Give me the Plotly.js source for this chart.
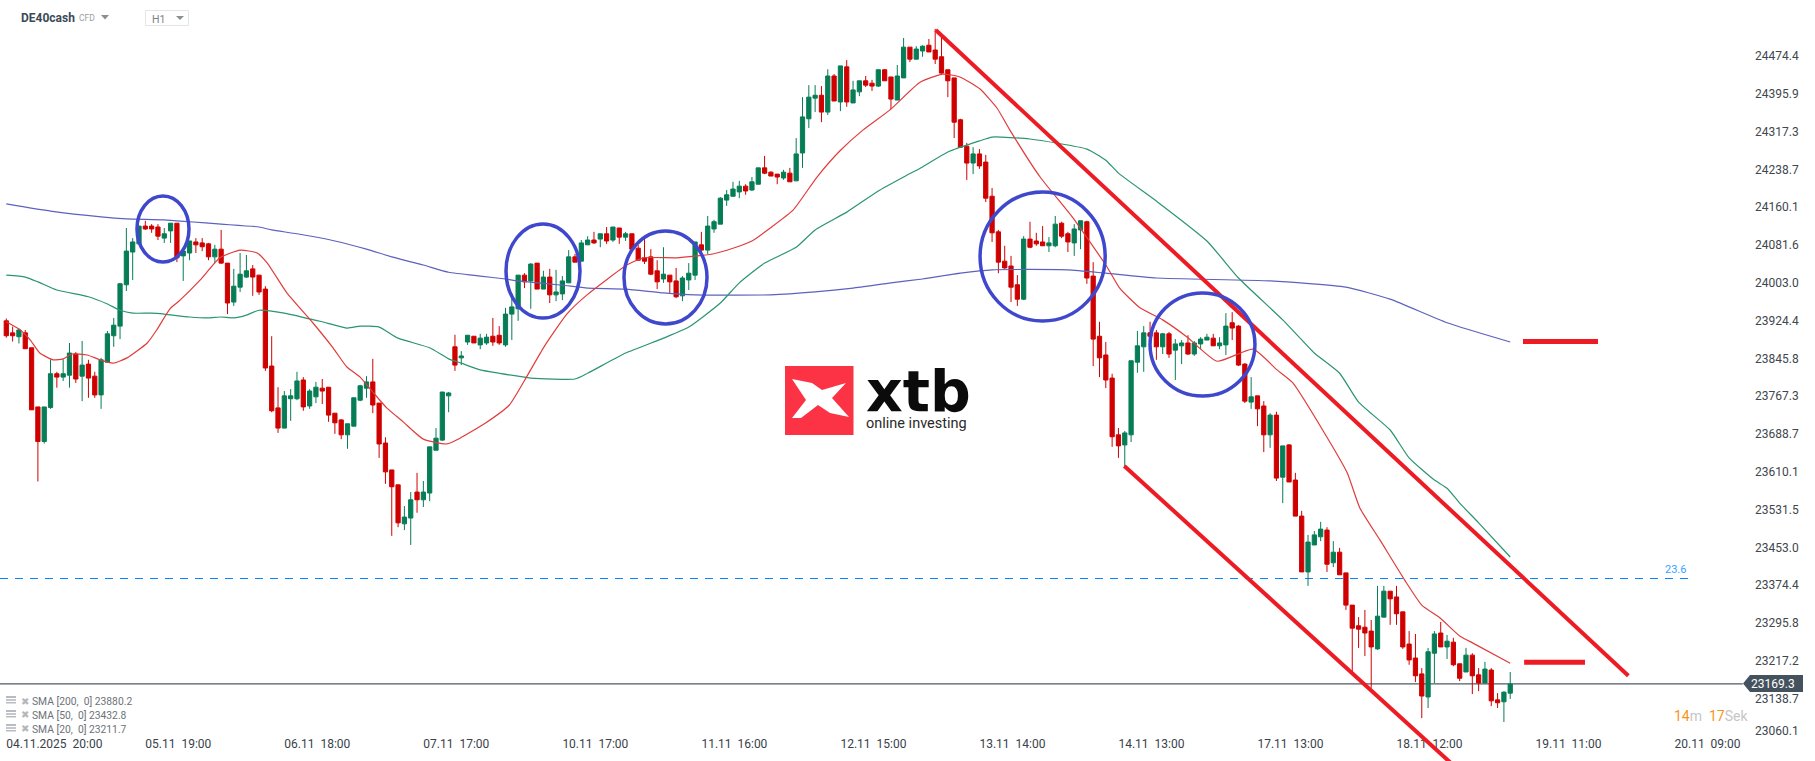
<!DOCTYPE html>
<html>
<head>
<meta charset="utf-8">
<script src="https://cdn.plot.ly/plotly-3.0.1.min.js"></script>
<style>html,body{margin:0;padding:0;background:#fff;overflow:hidden}#chart{width:1815px;height:761px}</style>
</head>
<body>
<div id="chart"></div>
<script>
const candleOpen = [23924,23899,23891,23899,23868,23745,23673,23744,23814,23807,
23811,23855,23809,23834,23809,23770,23838,23893,23913,23999,
24067,24084,24121,24121,24119,24096,24111,24127,24059,24065,
24088,24086,24084,24057,24073,24044,23963,23994,24015,24032,
24019,23990,23830,23743,23701,23762,23762,23801,23747,23766,
23784,23786,23732,23718,23687,23705,23759,23784,23797,23753,
23670,23614,23583,23502,23514,23568,23552,23566,23655,23676,
23768,23870,23847,23880,23892,23874,23878,23892,23894,23874,
23938,23949,24019,24007,24044,23990,24015,23978,23980,24003,
24057,24048,24082,24092,24094,24105,24092,24117,24098,24105,
24075,24055,24057,24028,24011,24019,24007,23976,24009,24019,
24082,24071,24115,24125,24175,24183,24192,24204,24196,24208,
24242,24233,24229,24221,24231,24215,24273,24344,24387,24393,
24358,24433,24379,24452,24377,24400,24423,24418,24412,24446,
24431,24383,24429,24493,24468,24485,24497,24487,24473,24446,
24429,24342,24287,24252,24271,24254,24183,24109,24048,24038,
23999,23969,24094,24090,24088,24080,24080,24127,24105,24086,
24113,24130,24017,23892,23853,23805,23687,23666,23687,23838,
23870,23899,23899,23870,23897,23863,23872,23878,23855,23876,
23884,23888,23872,23874,23920,23913,23834,23755,23768,23747,
23687,23728,23599,23666,23593,23518,23402,23458,23475,23489,
23421,23443,23400,23333,23290,23287,23279,23242,23308,23362,
23350,23319,23252,23223,23190,23142,23233,23275,23246,23256,
23211,23194,23229,23188,23171,23198,23136,23132,23150];
const candleHigh = [23929,23912,23908,23905,23868,23745,23745,23844,23818,23844,
23878,23859,23882,23843,23818,23847,23903,23930,24003,24117,
24096,24121,24132,24125,24125,24117,24127,24127,24069,24090,
24096,24096,24086,24082,24113,24044,24032,24065,24061,24040,
24019,23996,23892,23786,23778,23782,23818,23807,23782,23797,
23803,23786,23732,23720,23710,23764,23791,23809,23845,23753,
23682,23614,23583,23539,23568,23608,23591,23662,23701,23776,
23776,23895,23861,23894,23892,23897,23897,23930,23913,23951,
23980,24019,24023,24044,24044,24028,24032,24030,24017,24071,
24063,24092,24100,24109,24105,24119,24119,24117,24109,24105,
24082,24094,24073,24050,24077,24019,24034,24017,24044,24088,
24109,24142,24134,24181,24196,24213,24215,24208,24223,24242,
24267,24235,24229,24238,24242,24304,24389,24414,24414,24412,
24447,24437,24454,24466,24423,24423,24433,24425,24447,24447,
24431,24456,24512,24493,24495,24497,24510,24531,24514,24446,
24429,24344,24294,24285,24281,24269,24200,24113,24080,24059,
24019,24100,24130,24107,24121,24098,24142,24130,24109,24125,
24132,24132,24046,23922,23880,23814,23701,23695,23841,23903,
23913,23922,23905,23899,23901,23886,23884,23894,23882,23890,
23897,23897,23890,23940,23942,23915,23836,23807,23768,23757,
23732,23735,23664,23668,23608,23529,23479,23487,23506,23495,
23466,23452,23400,23333,23308,23323,23302,23373,23373,23362,
23373,23319,23279,23273,23202,23244,23279,23298,23271,23265,
23211,23244,23233,23202,23215,23202,23150,23154,23194];
const candleLow = [23889,23881,23877,23866,23739,23590,23669,23741,23785,23799,
23785,23795,23757,23764,23764,23741,23838,23870,23886,23986,
24009,24084,24113,24107,24092,24086,24086,24046,24007,24050,
24065,24069,24050,24044,24042,23938,23955,23984,24013,23976,
23978,23820,23734,23691,23701,23716,23759,23737,23741,23753,
23751,23714,23689,23678,23658,23705,23757,23764,23732,23639,
23585,23477,23495,23489,23458,23525,23537,23549,23655,23674,
23734,23820,23832,23874,23878,23865,23874,23872,23874,23870,
23884,23924,23992,23949,23990,23990,23961,23965,23967,24003,
24046,24048,24082,24084,24077,24084,24088,24084,24090,24073,
24050,24042,24019,23990,24003,23980,23971,23965,23988,24009,
24063,24063,24107,24125,24163,24183,24179,24186,24194,24208,
24229,24225,24208,24217,24213,24215,24242,24325,24358,24337,
24352,24381,24360,24369,24377,24391,24410,24402,24410,24423,
24364,24383,24429,24462,24468,24473,24483,24458,24435,24389,
24304,24285,24217,24229,24240,24171,24088,24023,24032,23963,
23955,23967,24075,24080,24080,24067,24077,24096,24067,24059,
24073,24001,23830,23807,23784,23662,23639,23620,23672,23816,
23818,23874,23843,23855,23847,23801,23834,23853,23851,23865,
23884,23872,23865,23853,23884,23830,23753,23741,23705,23651,
23660,23591,23545,23589,23518,23402,23373,23458,23466,23402,
23412,23396,23323,23190,23244,23227,23161,23240,23308,23292,
23292,23242,23209,23173,23098,23119,23171,23246,23221,23206,
23175,23194,23148,23154,23171,23123,23119,23090,23138];
const candleClose = [23893,23893,23905,23866,23739,23673,23745,23814,23807,23814,
23857,23803,23832,23805,23770,23843,23897,23915,24001,24069,
24088,24121,24115,24115,24100,24105,24127,24055,24069,24090,
24082,24078,24057,24073,24044,23961,23996,24021,24028,24015,
23984,23826,23737,23701,23768,23768,23799,23745,23778,23786,
23778,23728,23712,23687,23710,23764,23789,23797,23749,23668,
23610,23579,23504,23516,23552,23552,23568,23662,23680,23776,
23774,23832,23851,23894,23878,23888,23890,23880,23878,23938,
23953,24019,24005,24042,23990,24015,23978,23984,24007,24057,
24046,24086,24092,24086,24105,24090,24119,24098,24105,24073,
24050,24048,24021,24005,24021,24005,23974,24013,24023,24088,
24071,24121,24130,24179,24186,24198,24204,24194,24213,24242,
24231,24225,24223,24233,24213,24271,24348,24389,24393,24358,
24433,24381,24454,24379,24404,24423,24414,24412,24446,24423,
24385,24433,24493,24468,24489,24495,24483,24468,24439,24423,
24337,24285,24252,24271,24246,24179,24107,24046,24034,23994,
23969,24094,24077,24084,24080,24086,24125,24100,24088,24115,
24132,24013,23886,23847,23801,23683,23664,23691,23841,23872,
23899,23892,23870,23897,23855,23876,23878,23855,23878,23886,
23890,23872,23878,23913,23909,23832,23757,23766,23741,23687,
23728,23597,23664,23589,23518,23402,23464,23479,23491,23418,
23443,23396,23333,23285,23283,23275,23246,23310,23362,23346,
23315,23246,23219,23186,23144,23236,23273,23246,23258,23209,
23181,23229,23186,23171,23200,23134,23130,23152,23169];

const sma200X = [0,7,15,19,25,29,34,40,42,46,52,57,61,66,70,75,79,81,88,92,98,104,109,121,128,134,140,145,151,156,168,174,182,200,212,219,228,238];
const sma200Y = [24167,24152,24140,24136,24134,24130,24125,24119,24113,24105,24090,24073,24057,24040,24025,24017,24011,24007,23998,23992,23990,23982,23978,23978,23984,23992,24003,24011,24023,24030,24030,24023,24013,24007,23994,23969,23920,23880];
const sma50X = [0,3,5,8,13,16,18,20,23,25,29,32,34,36,38,40,44,48,50,54,56,59,62,67,70,72,75,78,83,90,92,98,104,108,113,116,120,125,128,133,138,142,145,149,154,156,162,171,174,176,182,190,195,202,207,211,214,219,222,226,228,230,233,238];
const sma50Y = [24019,24015,24005,23988,23974,23959,23946,23940,23940,23938,23932,23930,23932,23930,23936,23946,23940,23928,23922,23909,23913,23911,23888,23868,23845,23836,23822,23815,23805,23803,23815,23857,23888,23911,23961,24003,24044,24077,24113,24150,24194,24223,24244,24275,24298,24306,24302,24281,24258,24231,24173,24090,24013,23926,23857,23815,23755,23697,23639,23593,23576,23545,23504,23433];
const sma20X = [0,2.2,3.8,5.3,7.4,9,10.4,12.8,14.8,16.9,19.1,22.3,23.8,25.9,27.5,30.7,33.8,37,39.7,41.3,44.4,48.5,51.7,53.9,56,58,60.2,62.8,66,69.7,71.8,75.9,79.6,82.4,85.1,88.7,91.9,98.2,100.8,106.1,109.3,111.8,115,118,120.9,124.5,128.3,131.9,135.6,139.8,144.6,148.2,150.9,154.1,156.8,158.8,163.6,168.8,174.2,176.2,179.4,183,186.9,191.6,197.3,201.1,203.6,209,212.2,214.2,217.4,221.3,224,226.9,230,232.1,238];
const sma20Y = [23922,23905,23884,23857,23843,23845,23855,23853,23843,23836,23847,23878,23905,23949,23967,24009,24055,24071,24065,24044,23982,23920,23868,23828,23807,23776,23743,23714,23678,23668,23680,23712,23749,23809,23870,23938,23978,24040,24055,24055,24059,24063,24075,24090,24117,24154,24223,24277,24321,24362,24420,24437,24431,24406,24366,24321,24223,24138,24036,23992,23951,23926,23890,23840,23865,23822,23795,23682,23608,23535,23468,23385,23333,23306,23269,23254,23212];

const yTickValues = [24474.4,24395.9,24317.3,24238.7,24160.1,24081.6,24003.0,23924.4,23845.8,23767.3,23688.7,23610.1,23531.5,23453.0,23374.4,23295.8,23217.2,23138.7,23060.1];
const yTickPlaces = [24474.4,24395.9,24317.3,24238.7,24160.1,24081.6,24003.0,23924.4,23845.8,23767.3,23688.7,23610.1,23531.5,23453.0,23374.4,23295.8,23217.2,23138.7,23072];
const xTickIndex = [0,22,44,66,88,110,132,154,176,198,220,242,264];
const xTickLabels = ["04.11.2025  20:00","05.11  19:00","06.11  18:00","07.11  17:00","10.11  17:00","11.11  16:00","12.11  15:00","13.11  14:00","14.11  13:00","17.11  13:00","18.11  12:00","19.11  11:00","20.11  09:00"];
const smaLegend = ["SMA [200,  0] 23880.2","SMA [50,  0] 23432.8","SMA [20,  0] 23211.7"];
const currentPrice = 23169.3;
const fibPrice = 23388.3, fibEnd = 266.6;
const upperChannel = [147.08,24528.6,256.69,23186.2];
const lowerChannel = [176.93,23622.2,228.79,23002.6];
const markLevels = [[240.02,251.89,23881.0],[240.2,249.83,23214.1]];
const ellipses = [[20.68,28.91,24183.5,24046.3],[79.08,90.79,24125.3,23929.9],[97.75,110.89,24110.8,23917.4],[154.1,173.9,24191.8,23923.6],[181.0,197.6,23981.9,23767.7]];

const candleX = candleOpen.map((_, i) => i);
const W = 1815, H = 761;
const fx = x => x / W, fy = y => 1 - y / H;
const nb = s => s.replace(/  /g, "\u00a0\u00a0");

const RED = '#ed1c24', BLUE = '#3f48cc';
const smaLine = c => ({color:c, width:1.2, shape:'spline', smoothing:0.5});
const traces = [
 {type:'candlestick', x:candleX, open:candleOpen, high:candleHigh, low:candleLow, close:candleClose,
  increasing:{line:{color:'#067d56',width:1}, fillcolor:'#067d56'},
  decreasing:{line:{color:'#cf0000',width:1}, fillcolor:'#cf0000'},
  whiskerwidth:0, showlegend:false, hoverinfo:'skip'},
 {type:'scatter', mode:'lines', x:sma200X, y:sma200Y, line:smaLine('#5c62bd'), showlegend:false, hoverinfo:'skip'},
 {type:'scatter', mode:'lines', x:sma50X, y:sma50Y, line:smaLine('#2b9470'), showlegend:false, hoverinfo:'skip'},
 {type:'scatter', mode:'lines', x:sma20X, y:sma20Y, line:smaLine('#e03c3c'), showlegend:false, hoverinfo:'skip'}
];

const pathOf = pts => 'M' + pts.map(p => fx(p[0]) + ',' + fy(p[1])).join('L') + 'Z';
const shapes = [];
const paperPath = (pts, fill) => shapes.push({type:'path', xref:'paper', yref:'paper', path:pathOf(pts), fillcolor:fill, line:{width:0}, layer:'above'});
const paperRect = (x0,y0,x1,y1,fill,line) => shapes.push({type:'rect', xref:'paper', yref:'paper', x0:fx(x0), x1:fx(x1), y0:fy(y0), y1:fy(y1), fillcolor:fill, line:line||{width:0}, layer:'above'});

// reference lines
shapes.push({type:'line', xref:'x', yref:'y', x0:-1, x1:fibEnd, y0:fibPrice, y1:fibPrice, line:{color:'#0a84ff',width:1,dash:'8px,7px'}, layer:'below'});
shapes.push({type:'line', xref:'x', yref:'y', x0:-1, x1:274.8, y0:currentPrice, y1:currentPrice, line:{color:'#4d5b66',width:1.3}, layer:'below'});
// drawn channel and levels
[upperChannel, lowerChannel].forEach(c => shapes.push({type:'line', xref:'x', yref:'y', x0:c[0], y0:c[1], x1:c[2], y1:c[3], line:{color:RED,width:4}, layer:'above'}));
markLevels.forEach(m => shapes.push({type:'line', xref:'x', yref:'y', x0:m[0], x1:m[1], y0:m[2], y1:m[2], line:{color:RED,width:5}, layer:'above'}));
ellipses.forEach(e => shapes.push({type:'circle', xref:'x', yref:'y', x0:e[0], x1:e[1], y0:e[2], y1:e[3], line:{color:BLUE,width:3.5}, layer:'above'}));
// price tag
paperPath([[1743,683.5],[1750,675],[1803,675],[1803,692],[1750,692]], '#44525e');
// logo
paperRect(785,366,853.5,435,'#fb3344');
paperPath([[792,379],[812,383],[822,390],[846,383],[832,398],[849,417],[830,413],[818,405],[801,418],[792,418],[806,400]], '#ffffff');
// header
paperPath([[101,15],[109,15],[105,19.5]], '#8a8f93');
shapes.push({type:'rect', xref:'paper', yref:'paper', x0:fx(145.5), x1:fx(188.5), y0:fy(10.5), y1:fy(25.5), fillcolor:'rgba(0,0,0,0)', line:{color:'#e3e5e7',width:1}, layer:'above'});
paperPath([[176,16],[184,16],[180,20]], '#8a8f93');
// legend icons
[696,710,724].forEach(y => {
  paperRect(6,y,16,y+2,'#b8bcc0');
  paperRect(6,y+3,16,y+5,'#c4c8cc');
  paperRect(6,y+6,16,y+7.5,'#b8bcc0');
});

const ann = (x,y,text,font,anchor) => ({xref:'paper',yref:'paper',x:fx(x),y:fy(y),text:text,showarrow:false,xanchor:anchor||'left',yanchor:'middle',font:font,borderpad:0});
const annotations = [
  ann(20,18,'<b>DE40cash</b>',{family:'Roboto',size:12,color:'#3b4a57'}),
  ann(78,18.5,'CFD',{family:'Roboto',size:8.5,color:'#9a9ea2'}),
  ann(151,20,'H1',{family:'Roboto',size:10.5,color:'#7d8286'}),
  ann(1687,569,'23.6',{family:'Roboto',size:11,color:'#35a3ff'},'right'),
  ann(1773,684,'23169.3',{family:'Roboto',size:12,color:'#ffffff'},'center'),
  ann(1672.5,716,'<span style="color:#f7941d">14</span><span style="color:#c4c6c8">m</span>\u00a0\u00a0<span style="color:#f7941d">17</span><span style="color:#c4c6c8">Sek</span>',{family:'Roboto',size:14,color:'#c4c6c8'}),
  ann(865,391,'<b>xtb</b>',{family:'DejaVu Sans',size:57,color:'#0b0b0b'}),
  ann(865,424,'online investing',{family:'Roboto',size:14.5,color:'#2a2a2a'})
];
smaLegend.forEach((t,k) => {
  const y = [701.7,715.3,729.3][k];
  annotations.push(ann(31,y,nb(t),{family:'Roboto',size:10.3,color:'#6e7276'}));
  annotations.push(ann(19.5,y-0.5,'\u2716',{family:'DejaVu Sans',size:10,color:'#b4b8bc'}));
});

const layout = {
  width:W, height:H, margin:{l:0,r:0,t:0,b:0}, paper_bgcolor:'#ffffff', plot_bgcolor:'rgba(0,0,0,0)',
  showlegend:false, boxgap:0.33, boxgroupgap:0,
  xaxis:{range:[-0.997,286.23], domain:[0,1], anchor:'free', position:(H-735)/H, showgrid:false, zeroline:false, showline:false, ticks:'',
    tickmode:'array', tickvals:xTickIndex, ticktext:xTickLabels.map(nb), ticklabelposition:'outside right',
    tickfont:{family:'Roboto',size:12,color:'#38424a'}, rangeslider:{visible:false}, fixedrange:true},
  yaxis:{range:[23008.9,24591], domain:[0,1], anchor:'free', position:1754/W, side:'right', showgrid:false, zeroline:false, showline:false, ticks:'',
    tickmode:'array', tickvals:yTickPlaces, ticktext:yTickValues.map(v => v.toFixed(1)),
    tickfont:{family:'Roboto',size:12,color:'#40474d'}, fixedrange:true},
  shapes:shapes, annotations:annotations
};
Plotly.newPlot('chart', traces, layout, {displayModeBar:false, staticPlot:true});
</script>
</body>
</html>
